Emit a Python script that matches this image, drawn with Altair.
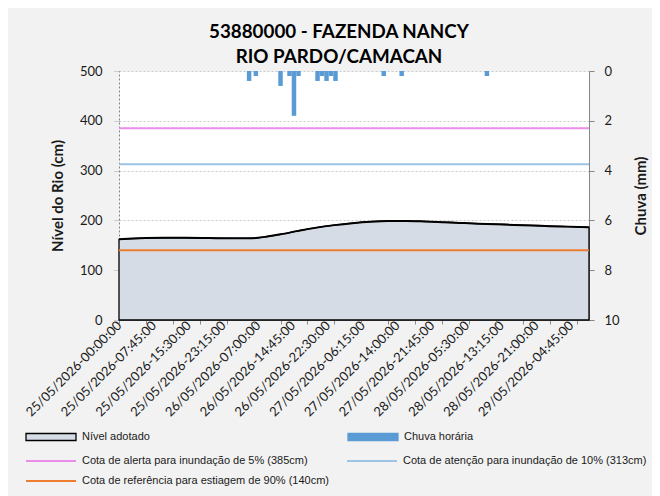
import altair as alt
import pandas as pd

# ---------------- data ----------------
nivel_t = ["2026-05-25 00:00", "2026-05-25 03:00", "2026-05-25 06:00", "2026-05-25 10:00",
           "2026-05-25 15:00", "2026-05-25 20:00", "2026-05-26 01:00", "2026-05-26 05:00",
           "2026-05-26 07:00", "2026-05-26 09:00", "2026-05-26 12:00", "2026-05-26 16:00",
           "2026-05-26 20:00", "2026-05-27 00:00", "2026-05-27 04:00", "2026-05-27 08:00",
           "2026-05-27 12:00", "2026-05-27 16:00", "2026-05-27 20:00", "2026-05-28 00:00",
           "2026-05-28 04:00", "2026-05-28 08:00", "2026-05-28 12:00", "2026-05-28 16:00",
           "2026-05-28 20:00", "2026-05-29 00:00", "2026-05-29 04:00", "2026-05-29 08:45"]
nivel_v = [162, 163.5, 164.5, 165, 165, 164.5, 164, 164, 165, 167.5, 172, 179, 185.5, 190.5,
           194.5, 197.5, 199, 199, 198, 196.5, 195, 193.5, 192.5, 191, 190, 188.5, 187.5, 186]

chuva_t = ["2026-05-26 04:30", "2026-05-26 06:00", "2026-05-26 11:30", "2026-05-26 13:30",
           "2026-05-26 14:30", "2026-05-26 15:30", "2026-05-26 19:45", "2026-05-26 20:45",
           "2026-05-26 21:45", "2026-05-26 22:45", "2026-05-26 23:45", "2026-05-27 10:30",
           "2026-05-27 14:30", "2026-05-28 09:30"]
chuva_v = [0.4, 0.2, 0.6, 0.2, 1.8, 0.2, 0.4, 0.2, 0.4, 0.2, 0.4, 0.2, 0.2, 0.2]

# order chosen so the legend grid reads: alerta | atenção / referência
cota_nomes = ["Cota de alerta para inundação de 5% (385cm)",
              "Cota de referência para estiagem de 90% (140cm)",
              "Cota de atenção para inundação de 10% (313cm)"]
cota_valores = [385, 140, 313]
cota_cores = ["#ea8cea", "#ed7d31", "#9dc3e6"]

serie_nomes = ["Nível adotado", "Chuva horária"]
serie_fill = ["#d6dce5", "#5b9bd5"]
serie_stroke = ["#000000", "#5b9bd5"]

x_label_t = ["2026-05-25 00:00", "2026-05-25 07:45", "2026-05-25 15:30", "2026-05-25 23:15",
             "2026-05-26 07:00", "2026-05-26 14:45", "2026-05-26 22:30", "2026-05-27 06:15",
             "2026-05-27 14:00", "2026-05-27 21:45", "2026-05-28 05:30", "2026-05-28 13:15",
             "2026-05-28 21:00", "2026-05-29 04:45"]
y_left_ticks = [0, 100, 200, 300, 400, 500]
y_right_ticks = [0, 2, 4, 6, 8, 10]
titulo = ["53880000 - FAZENDA NANCY", "RIO PARDO/CAMACAN"]


def dt(s):
    ts = pd.Timestamp(s)
    return alt.DateTime(year=ts.year, month=ts.month, date=ts.day,
                        hours=ts.hour, minutes=ts.minute)


x_tick_t = pd.date_range("2026-05-25 00:00", "2026-05-29 08:45", freq="6h")

nivel_df = pd.DataFrame({"t": pd.to_datetime(nivel_t), "nivel": nivel_v, "serie": serie_nomes[0]})
chuva_df = pd.DataFrame({"t": pd.to_datetime(chuva_t), "chuva": chuva_v, "serie": serie_nomes[1]})
chuva_df["t2"] = chuva_df["t"] + pd.Timedelta(hours=1)
cota_df = pd.DataFrame({"cota": cota_nomes, "valor": cota_valores})

FONT = "Lato"
TXT = "#1a1a1a"
LFONT = "Liberation Sans, Arial, sans-serif"

x_scale = alt.Scale(nice=False)
fill_scale = alt.Scale(domain=serie_nomes, range=serie_fill)
stroke_scale = alt.Scale(domain=serie_nomes, range=serie_stroke)
color_scale = alt.Scale(domain=cota_nomes, range=cota_cores)


def yl_scale():
    return alt.Scale(domain=[0, 500], nice=False)


legA = alt.Legend(title=None, orient="none", legendX=-94, legendY=359, columns=2,
                  symbolType="M-1,-0.14H1V0.14H-1Z", symbolSize=2500, symbolStrokeWidth=1.3,
                  labelFont=LFONT, labelFontSize=11, labelColor=TXT, labelOffset=5,
                  labelLimit=400, columnPadding=197, clipHeight=14, padding=0)
legB = alt.Legend(title=None, orient="none", legendX=-94, legendY=383, columns=2,
                  symbolType="stroke", symbolSize=2500, symbolStrokeWidth=2,
                  labelFont=LFONT, labelFontSize=11, labelColor=TXT, labelOffset=5,
                  labelLimit=400, columnPadding=16, rowPadding=6, clipHeight=14, padding=0)

x_label_axis = alt.Axis(values=[dt(s) for s in x_label_t], format="%d/%m/%Y-%H:%M:%S",
                        labelAngle=315, labelAlign="right", labelBaseline="middle",
                        labelFont=FONT, labelFontSize=13, labelColor=TXT, labelPadding=3,
                        labelFlush=False, labelOverlap=False, ticks=False, grid=False,
                        domainColor="#8c8c8c", domainWidth=1, title=None, orient="bottom")
x_tick_axis = alt.Axis(values=[dt(str(t)) for t in x_tick_t], labels=False, domain=False,
                       ticks=True, tickSize=4, tickColor="#8c8c8c", grid=False, title=None,
                       orient="bottom")

y_left_axis = alt.Axis(values=y_left_ticks, title="Nível do Rio (cm)", titleFont=FONT,
                       titleFontSize=15, titleFontWeight="bold", titleColor=TXT, titlePadding=14,
                       labelFont=FONT, labelFontSize=13, labelColor=TXT, labelPadding=12,
                       grid=True, gridColor="#c8c8c8", gridDash=[2, 2], domainDash=[2, 2],
                       domainColor="#7f7f7f", tickSize=5, tickColor="#a6a6a6", tickDash=[1, 1],
                       orient="left")
y_right_axis = alt.Axis(values=y_right_ticks, orient="right", title="Chuva (mm)", titleFont=FONT,
                        titleFontSize=15, titleFontWeight="bold", titleColor=TXT, titleAngle=270,
                        titlePadding=29, labelFont=FONT, labelFontSize=13, labelColor=TXT,
                        labelPadding=10, grid=False, domainColor="#868686", tickSize=5,
                        tickColor="#868686")

area = alt.Chart(nivel_df).mark_area(interpolate="monotone", strokeWidth=1.3, opacity=1).encode(
    x=alt.X("t:T", scale=x_scale, axis=x_label_axis),
    y=alt.Y("nivel:Q", scale=yl_scale(), axis=y_left_axis),
    fill=alt.Fill("serie:N", scale=fill_scale, legend=legA),
    stroke=alt.Stroke("serie:N", scale=stroke_scale, legend=legA),
)
rules = alt.Chart(cota_df).mark_rule(strokeWidth=2).encode(
    y=alt.Y("valor:Q", scale=yl_scale(), axis=None),
    color=alt.Color("cota:N", scale=color_scale, legend=legB),
)
line = alt.Chart(nivel_df).mark_line(interpolate="monotone", color="black", strokeWidth=2).encode(
    x=alt.X("t:T", scale=x_scale, axis=None),
    y=alt.Y("nivel:Q", scale=yl_scale(), axis=None),
)
bars = alt.Chart(chuva_df).mark_bar(strokeWidth=0).encode(
    x=alt.X("t:T", scale=x_scale, axis=x_tick_axis),
    x2="t2:T",
    y=alt.Y("chuva:Q", scale=alt.Scale(domain=[0, 10], reverse=True, nice=False), axis=y_right_axis),
    y2=alt.datum(0),
    fill=alt.Fill("serie:N", scale=fill_scale, legend=legA),
    stroke=alt.Stroke("serie:N", scale=stroke_scale, legend=legA),
)

chart = alt.layer(area, rules, line, bars).resolve_scale(y="independent").resolve_axis(
    x="independent").properties(
    width=470, height=249,
    padding={"left": 111, "top": 63, "right": 63, "bottom": 176},
    autosize=alt.AutoSizeParams(type="none"),
    background="#f2f2f2",
    title=alt.Title(titulo, font=FONT, fontSize=18.8, fontWeight="bold", color="black",
                    anchor="middle", frame="group", dx=-15, dy=5, offset=3, lineHeight=25),
).configure_view(fill="white", stroke="transparent")

chart.save("out.html", embed_options={"renderer": "svg", "actions": False})
